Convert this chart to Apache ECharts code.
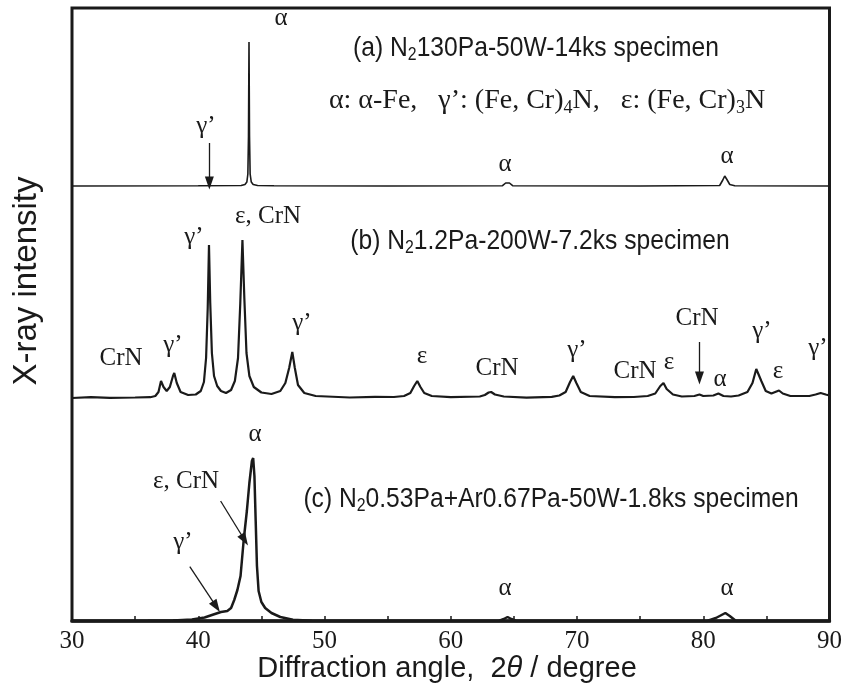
<!DOCTYPE html>
<html>
<head>
<meta charset="utf-8">
<script src="https://cdn.jsdelivr.net/npm/echarts@6/dist/echarts.min.js"></script>
<style>
  html, body { margin: 0; padding: 0; background: #fff; }
  #chart { width: 845px; height: 688px; }
</style>
</head>
<body>
<div id="chart"></div>
<script>
/* ---------------- DATA ---------------- */

// x axis (2theta, degree)
const X_MIN = 30;
const X_MAX = 90;
const X_TICKS = [30, 40, 50, 60, 70, 80, 90];

// intensity, arbitrary units; each pattern is drawn on its own offset
const Y_MAX = 6130;
const OFFSET_A = 4350;
const OFFSET_B = 2230;
const OFFSET_C = 0;

// (a) N2 130Pa-50W-14ks  [angle, intensity]
const PATTERN_A = [
    [30, 0], [40, 2], [43.4, 5], [43.7, 15], [43.85, 40], [43.93, 120],
    [43.98, 500], [44.02, 1440], [44.06, 500], [44.11, 120], [44.2, 40],
    [44.35, 15], [44.7, 5], [46, 2], [55, 0], [64.1, 3], [64.35, 30],
    [64.5, 50], [64.65, 30], [64.9, 3], [75, 0], [81.3, 5], [81.55, 60],
    [81.7, 100], [81.85, 70], [82.1, 15], [82.5, 3], [90, 0],
];

// (b) N2 1.2Pa-200W-7.2ks
const PATTERN_B = [
    [30, 0], [31.5, 8], [33, 2], [35, 5], [36.2, 8], [36.6, 20], [36.85, 60],
    [37.05, 170], [37.25, 110], [37.5, 70], [37.75, 110], [38.0, 220],
    [38.1, 250], [38.3, 150], [38.6, 60], [39.2, 30], [39.8, 35], [40.2, 70],
    [40.45, 160], [40.62, 400], [40.75, 900], [40.85, 1530], [40.95, 950],
    [41.08, 450], [41.25, 220], [41.5, 120], [41.8, 70], [42.2, 50],
    [42.6, 80], [42.9, 170], [43.15, 400], [43.33, 950], [43.5, 1580],
    [43.65, 1000], [43.82, 450], [44.05, 220], [44.4, 110], [45, 55],
    [45.8, 40], [46.5, 70], [46.9, 150], [47.2, 300], [47.45, 460],
    [47.65, 300], [47.9, 130], [48.4, 50], [49.3, 20], [52, 5], [54, 12],
    [55.5, 10], [56.3, 20], [56.8, 50], [57.1, 120], [57.35, 170],
    [57.6, 110], [57.9, 50], [58.5, 20], [60, 8], [62.3, 15], [62.7, 30],
    [63.0, 55], [63.2, 60], [63.5, 35], [64.2, 15], [66, 4], [68, 12],
    [68.6, 25], [69.1, 60], [69.45, 160], [69.7, 220], [69.95, 150],
    [70.3, 60], [71, 20], [73, 8], [74.5, 10], [75.6, 20], [76.2, 45],
    [76.6, 120], [76.85, 150], [77.1, 90], [77.6, 35], [78.3, 15],
    [79.3, 20], [79.7, 35], [80, 20], [80.8, 25], [81.2, 45], [81.6, 20],
    [82.2, 15], [82.8, 25], [83.5, 60], [83.9, 150], [84.2, 290],
    [84.35, 300], [84.6, 170], [84.95, 70], [85.4, 45], [85.8, 65],
    [86.0, 75], [86.3, 45], [86.9, 20], [88.4, 20], [88.9, 35], [89.3, 50],
    [89.7, 35], [90, 25],
];

// (c) N2 0.53Pa + Ar 0.67Pa-50W-1.8ks
const PATTERN_C = [
    [30, 0], [36, 3], [38, 6], [39.5, 15], [40.5, 35], [41.2, 65],
    [41.8, 90], [42.3, 100], [42.6, 130], [42.85, 210], [43.1, 310],
    [43.35, 450], [43.6, 810], [43.85, 1100], [44.05, 1380], [44.25, 1600],
    [44.35, 1630], [44.45, 1450], [44.55, 1000], [44.65, 550], [44.78, 300],
    [45.0, 190], [45.3, 130], [45.8, 80], [46.5, 40], [47.5, 12], [49, 3],
    [52, 0], [63.8, 0], [64.2, 20], [64.5, 40], [64.8, 20], [65.2, 0],
    [80.3, 0], [81, 30], [81.75, 80], [82.1, 50], [82.6, 0], [90, 0],
];

// annotation arrows: [angle1, intensity1, angle2, intensity2] (tail -> head)
const ARROWS = [
    [40.88, 4780, 40.88, 4380],   // (a) gamma'
    [79.7, 2790, 79.7, 2430],     // (b) CrN
    [41.77, 1200, 43.67, 810],    // (c) eps, CrN
    [39.33, 543, 41.43, 143],     // (c) gamma'
];

/* ---------------- STYLE ---------------- */

const SERIF = "'Liberation Serif', 'Times New Roman', serif";
const SANS = "'Liberation Sans', Arial, sans-serif";
const INK = "#1a1a1a";

const shift = (pts, off) => pts.map(([x, y]) => [x, y + off]);

function label(text, x, y, size) {
    return {
        type: "text", x, y,
        style: {
            text, fill: INK, font: `${size || 25}px ${SERIF}`,
            textAlign: "center", textVerticalAlign: "middle",
        },
    };
}

function richText(text, x, y, rich, scaleX) {
    return {
        type: "text", x, y, scaleX: scaleX || 1,
        style: { text, fill: INK, textAlign: "center", textVerticalAlign: "middle", rich },
    };
}

// condensed sans titles (scaled horizontally)
const titleRich = {
    t: { fontFamily: SANS, fontSize: 28, lineHeight: 32, color: INK },
    s: { fontFamily: SANS, fontSize: 18, lineHeight: 15, color: INK, verticalAlign: "bottom" },
};
const legendRich = {
    t: { fontFamily: SERIF, fontSize: 28, lineHeight: 32, color: INK },
    s: { fontFamily: SERIF, fontSize: 18, lineHeight: 14, color: INK, verticalAlign: "bottom" },
};

const chart = echarts.init(document.getElementById("chart"));

const lineSeries = (name, pts, off, width) => ({
    name, type: "line", data: shift(pts, off),
    showSymbol: false, smooth: false,
    lineStyle: { color: INK, width },
    z: 3,
});

chart.setOption({
    animation: false,
    grid: {
        left: 72, right: 14, top: 8, bottom: 67,
        show: true, borderColor: INK, borderWidth: 3,
    },
    xAxis: {
        type: "value", min: X_MIN, max: X_MAX, interval: 10,
        axisLine: { show: true, lineStyle: { color: INK, width: 3.5 } },
        axisTick: { show: true, inside: true, length: 5, lineStyle: { color: INK, width: 1.5 } },
        minorTick: { show: true, splitNumber: 2, length: 5, lineStyle: { color: INK, width: 1.5 } },
        splitLine: { show: false },
        axisLabel: {
            margin: 8, color: INK, fontFamily: SERIF, fontSize: 25,
            formatter: (v) => (X_TICKS.includes(v) ? String(v) : ""),
        },
    },
    yAxis: {
        type: "value", min: 0, max: Y_MAX,
        axisLine: { show: false }, axisTick: { show: false },
        axisLabel: { show: false }, splitLine: { show: false },
    },
    series: [
        lineSeries("a", PATTERN_A, OFFSET_A, 1.6),
        lineSeries("b", PATTERN_B, OFFSET_B, 2.2),
        Object.assign(lineSeries("c", PATTERN_C, OFFSET_C, 2.5), {
            markLine: {
                silent: true, animation: false,
                symbol: ["none", "triangle"], symbolSize: [9, 13],
                label: { show: false },
                lineStyle: { color: INK, width: 1.3, type: "solid" },
                data: ARROWS.map(([x1, y1, x2, y2]) => [
                    { coord: [x1, y1] }, { coord: [x2, y2] },
                ]),
            },
        }),
    ],
    graphic: [
        // axis names
        {
            type: "text", x: 27, y: 281, rotation: Math.PI / 2,
            style: {
                text: "X-ray intensity", fill: INK, font: `33px ${SANS}`,
                textAlign: "center", textVerticalAlign: "middle",
            },
        },
        richText("{n|Diffraction angle,  2}{i|θ}{n| / degree}", 447, 669, {
            n: { fontFamily: SANS, fontSize: 29, color: INK },
            i: { fontFamily: SANS, fontSize: 29, fontStyle: "italic", color: INK },
        }),

        // (a)
        richText("{t|(a) N}{s|2}{t|130Pa-50W-14ks specimen}", 536, 48, titleRich, 0.88),
        richText("{t|α: α-Fe,   γ’: (Fe, Cr)}{s|4}{t|N,   ε: (Fe, Cr)}{s|3}{t|N}", 547, 101, legendRich),
        label("α", 281, 18),
        label("γ’", 206, 126),
        label("α", 505, 164),
        label("α", 727, 156),

        // (b)
        richText("{t|(b) N}{s|2}{t|1.2Pa-200W-7.2ks specimen}", 540, 241, titleRich, 0.88),
        label("γ’", 194, 237),
        label("ε, CrN", 268, 216),
        label("γ’", 302, 323),
        label("CrN", 121, 358),
        label("γ’", 173, 345),
        label("ε", 422, 356),
        label("CrN", 497, 368),
        label("γ’", 577, 350),
        label("CrN", 635, 371),
        label("ε", 669, 362),
        label("CrN", 697, 318),
        label("α", 720, 379),
        label("γ’", 762, 331),
        label("ε", 778, 371),
        label("γ’", 818, 348),

        // (c)
        richText("{t|(c) N}{s|2}{t|0.53Pa+Ar0.67Pa-50W-1.8ks specimen}", 551, 499, titleRich, 0.88),
        label("α", 255, 434),
        label("ε, CrN", 186, 481),
        label("γ’", 183, 542),
        label("α", 505, 588),
        label("α", 727, 588),
    ],
});
</script>
</body>
</html>
